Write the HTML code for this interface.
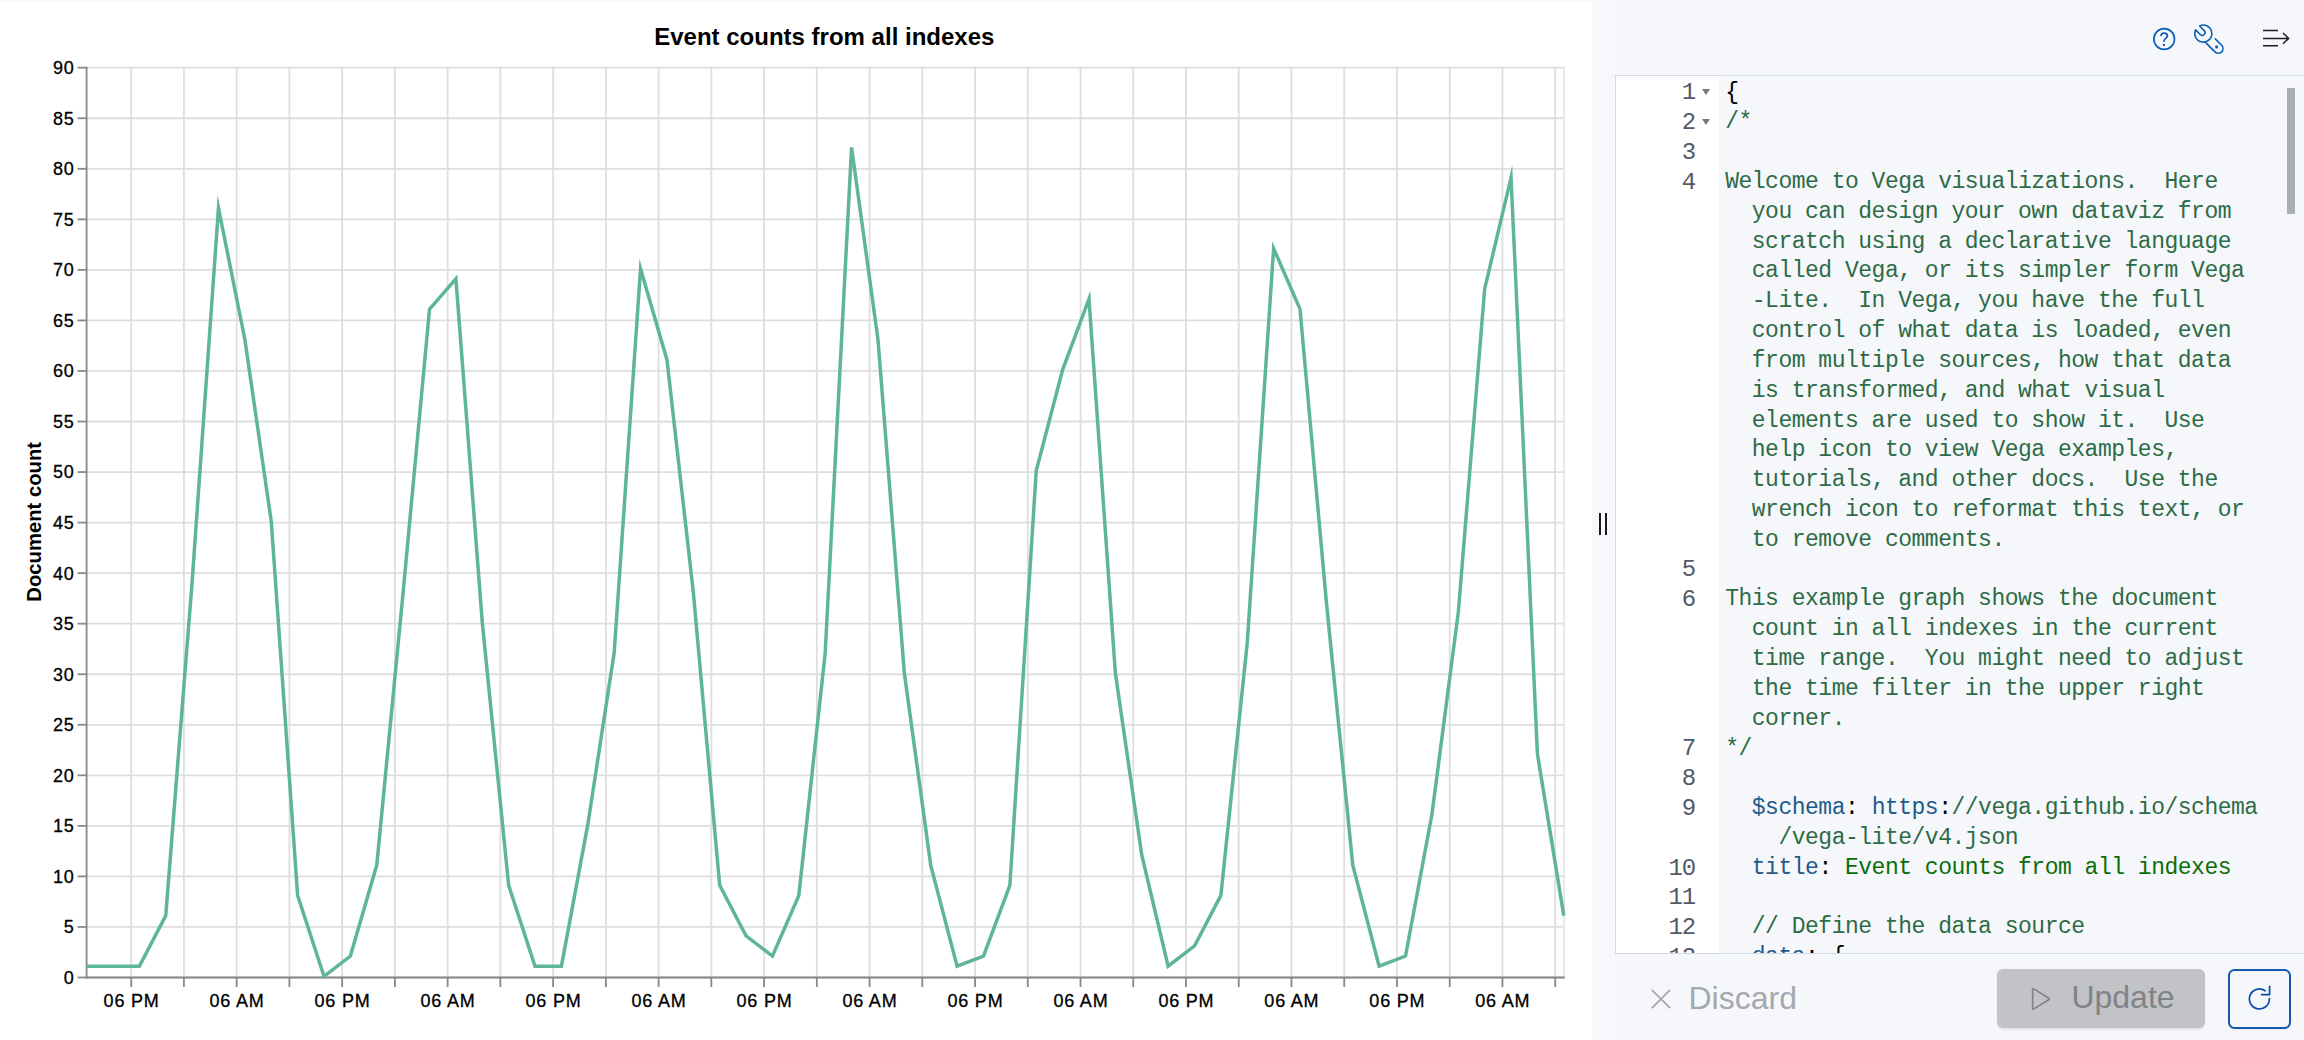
<!DOCTYPE html>
<html><head><meta charset="utf-8">
<style>
html,body{margin:0;padding:0;}
body{width:2304px;height:1040px;overflow:hidden;background:#f7f8fc;position:relative;font-family:"Liberation Sans",sans-serif;}
#chart{position:absolute;left:0;top:2px;width:1592px;height:1038px;background:#fff;}
#chart svg{position:absolute;left:0;top:-2px;}
.lbl{font-family:"Liberation Sans",sans-serif;font-size:18px;fill:#000;letter-spacing:0.8px;stroke:#000;stroke-width:0.3px;}
.ttl{font-family:"Liberation Sans",sans-serif;font-size:24px;font-weight:bold;fill:#000;}
.axt{font-family:"Liberation Sans",sans-serif;font-size:20.25px;font-weight:bold;fill:#000;}
.grip{position:absolute;top:513px;width:1.6px;height:21.5px;background:#1a1c21;}
#hdr{position:absolute;left:1614px;top:2px;width:690px;height:73px;background:#f5f7fa;border-bottom:1px solid #d3dae6;}
#ed{position:absolute;left:1615px;top:76px;width:688px;height:877px;background:#f5f7fa;border-left:1px solid #d3dae6;border-bottom:1px solid #d3dae6;overflow:hidden;}
#gut{position:absolute;left:0;top:0;width:103px;height:877px;background:#fff;}
#gutin{position:absolute;left:0;top:2.3px;}
.gl{position:absolute;left:0;width:79px;text-align:right;height:29.82px;line-height:29.82px;font-family:"Liberation Mono",monospace;font-size:24px;letter-spacing:-1.09px;color:#535966;white-space:pre;}
.fold{position:absolute;left:86px;width:0;height:0;margin-top:11.2px;border-left:4.9px solid transparent;border-right:4.9px solid transparent;border-top:6.1px solid #777;}
#code{position:absolute;left:109.2px;top:2.5px;}
.cl{position:absolute;left:0;height:29.82px;line-height:29.82px;font-family:"Liberation Mono",monospace;font-size:23px;letter-spacing:-0.49px;white-space:pre;color:#000;}
.cm{color:#2e6b47;}
.ky{color:#1d5c8c;}
.pn{color:#000;}
.st{color:#0b6e0b;}
.ur{color:#1d5c8c;}
#sb{position:absolute;left:2287px;top:88px;width:7.7px;height:126px;background:#a9adb5;}
#ftr{position:absolute;left:1614px;top:954px;width:690px;height:86px;background:#f5f7fa;}
.btxt{position:absolute;font-family:"Liberation Sans",sans-serif;font-size:32px;line-height:normal;white-space:pre;}
#upd{position:absolute;left:1996.6px;top:969px;width:208.4px;height:59.4px;background:#c2c3c7;border-radius:6px;box-shadow:0 1.5px 2px rgba(0,0,0,0.08);}
#rfr{position:absolute;box-sizing:border-box;left:2227.8px;top:969.4px;width:62.8px;height:59.2px;background:#f5f7fa;border:2px solid #1458b0;border-radius:6.5px;box-shadow:0 1px 2px rgba(0,0,0,0.06);}
</style></head>
<body>
<div id="chart"><svg width="1592" height="1040" viewBox="0 0 1592 1040">
<line x1="86.6" y1="977.50" x2="1564.3" y2="977.50" stroke="#dedede" stroke-width="1.8"/>
<line x1="86.6" y1="926.96" x2="1564.3" y2="926.96" stroke="#dedede" stroke-width="1.8"/>
<line x1="86.6" y1="876.41" x2="1564.3" y2="876.41" stroke="#dedede" stroke-width="1.8"/>
<line x1="86.6" y1="825.87" x2="1564.3" y2="825.87" stroke="#dedede" stroke-width="1.8"/>
<line x1="86.6" y1="775.32" x2="1564.3" y2="775.32" stroke="#dedede" stroke-width="1.8"/>
<line x1="86.6" y1="724.78" x2="1564.3" y2="724.78" stroke="#dedede" stroke-width="1.8"/>
<line x1="86.6" y1="674.23" x2="1564.3" y2="674.23" stroke="#dedede" stroke-width="1.8"/>
<line x1="86.6" y1="623.69" x2="1564.3" y2="623.69" stroke="#dedede" stroke-width="1.8"/>
<line x1="86.6" y1="573.14" x2="1564.3" y2="573.14" stroke="#dedede" stroke-width="1.8"/>
<line x1="86.6" y1="522.60" x2="1564.3" y2="522.60" stroke="#dedede" stroke-width="1.8"/>
<line x1="86.6" y1="472.06" x2="1564.3" y2="472.06" stroke="#dedede" stroke-width="1.8"/>
<line x1="86.6" y1="421.51" x2="1564.3" y2="421.51" stroke="#dedede" stroke-width="1.8"/>
<line x1="86.6" y1="370.97" x2="1564.3" y2="370.97" stroke="#dedede" stroke-width="1.8"/>
<line x1="86.6" y1="320.42" x2="1564.3" y2="320.42" stroke="#dedede" stroke-width="1.8"/>
<line x1="86.6" y1="269.88" x2="1564.3" y2="269.88" stroke="#dedede" stroke-width="1.8"/>
<line x1="86.6" y1="219.33" x2="1564.3" y2="219.33" stroke="#dedede" stroke-width="1.8"/>
<line x1="86.6" y1="168.79" x2="1564.3" y2="168.79" stroke="#dedede" stroke-width="1.8"/>
<line x1="86.6" y1="118.24" x2="1564.3" y2="118.24" stroke="#dedede" stroke-width="1.8"/>
<line x1="86.6" y1="67.70" x2="1564.3" y2="67.70" stroke="#dedede" stroke-width="1.8"/>
<line x1="131.20" y1="67.7" x2="131.20" y2="977.5" stroke="#dedede" stroke-width="1.8"/>
<line x1="183.94" y1="67.7" x2="183.94" y2="977.5" stroke="#dedede" stroke-width="1.8"/>
<line x1="236.68" y1="67.7" x2="236.68" y2="977.5" stroke="#dedede" stroke-width="1.8"/>
<line x1="289.42" y1="67.7" x2="289.42" y2="977.5" stroke="#dedede" stroke-width="1.8"/>
<line x1="342.16" y1="67.7" x2="342.16" y2="977.5" stroke="#dedede" stroke-width="1.8"/>
<line x1="394.90" y1="67.7" x2="394.90" y2="977.5" stroke="#dedede" stroke-width="1.8"/>
<line x1="447.64" y1="67.7" x2="447.64" y2="977.5" stroke="#dedede" stroke-width="1.8"/>
<line x1="500.38" y1="67.7" x2="500.38" y2="977.5" stroke="#dedede" stroke-width="1.8"/>
<line x1="553.12" y1="67.7" x2="553.12" y2="977.5" stroke="#dedede" stroke-width="1.8"/>
<line x1="605.86" y1="67.7" x2="605.86" y2="977.5" stroke="#dedede" stroke-width="1.8"/>
<line x1="658.60" y1="67.7" x2="658.60" y2="977.5" stroke="#dedede" stroke-width="1.8"/>
<line x1="711.34" y1="67.7" x2="711.34" y2="977.5" stroke="#dedede" stroke-width="1.8"/>
<line x1="764.08" y1="67.7" x2="764.08" y2="977.5" stroke="#dedede" stroke-width="1.8"/>
<line x1="816.82" y1="67.7" x2="816.82" y2="977.5" stroke="#dedede" stroke-width="1.8"/>
<line x1="869.56" y1="67.7" x2="869.56" y2="977.5" stroke="#dedede" stroke-width="1.8"/>
<line x1="922.30" y1="67.7" x2="922.30" y2="977.5" stroke="#dedede" stroke-width="1.8"/>
<line x1="975.04" y1="67.7" x2="975.04" y2="977.5" stroke="#dedede" stroke-width="1.8"/>
<line x1="1027.78" y1="67.7" x2="1027.78" y2="977.5" stroke="#dedede" stroke-width="1.8"/>
<line x1="1080.52" y1="67.7" x2="1080.52" y2="977.5" stroke="#dedede" stroke-width="1.8"/>
<line x1="1133.26" y1="67.7" x2="1133.26" y2="977.5" stroke="#dedede" stroke-width="1.8"/>
<line x1="1186.00" y1="67.7" x2="1186.00" y2="977.5" stroke="#dedede" stroke-width="1.8"/>
<line x1="1238.74" y1="67.7" x2="1238.74" y2="977.5" stroke="#dedede" stroke-width="1.8"/>
<line x1="1291.48" y1="67.7" x2="1291.48" y2="977.5" stroke="#dedede" stroke-width="1.8"/>
<line x1="1344.22" y1="67.7" x2="1344.22" y2="977.5" stroke="#dedede" stroke-width="1.8"/>
<line x1="1396.96" y1="67.7" x2="1396.96" y2="977.5" stroke="#dedede" stroke-width="1.8"/>
<line x1="1449.70" y1="67.7" x2="1449.70" y2="977.5" stroke="#dedede" stroke-width="1.8"/>
<line x1="1502.44" y1="67.7" x2="1502.44" y2="977.5" stroke="#dedede" stroke-width="1.8"/>
<line x1="1555.18" y1="67.7" x2="1555.18" y2="977.5" stroke="#dedede" stroke-width="1.8"/>
<line x1="1564.10" y1="66.8" x2="1564.10" y2="977.5" stroke="#e6e6e6" stroke-width="1.8"/>
<line x1="86.6" y1="66.8" x2="86.6" y2="978.4" stroke="#888888" stroke-width="1.8"/>
<line x1="77.6" y1="977.50" x2="86.6" y2="977.50" stroke="#888888" stroke-width="1.8"/>
<text x="74.6" y="983.90" text-anchor="end" class="lbl">0</text>
<line x1="77.6" y1="926.96" x2="86.6" y2="926.96" stroke="#888888" stroke-width="1.8"/>
<text x="74.6" y="933.36" text-anchor="end" class="lbl">5</text>
<line x1="77.6" y1="876.41" x2="86.6" y2="876.41" stroke="#888888" stroke-width="1.8"/>
<text x="74.6" y="882.81" text-anchor="end" class="lbl">10</text>
<line x1="77.6" y1="825.87" x2="86.6" y2="825.87" stroke="#888888" stroke-width="1.8"/>
<text x="74.6" y="832.27" text-anchor="end" class="lbl">15</text>
<line x1="77.6" y1="775.32" x2="86.6" y2="775.32" stroke="#888888" stroke-width="1.8"/>
<text x="74.6" y="781.72" text-anchor="end" class="lbl">20</text>
<line x1="77.6" y1="724.78" x2="86.6" y2="724.78" stroke="#888888" stroke-width="1.8"/>
<text x="74.6" y="731.18" text-anchor="end" class="lbl">25</text>
<line x1="77.6" y1="674.23" x2="86.6" y2="674.23" stroke="#888888" stroke-width="1.8"/>
<text x="74.6" y="680.63" text-anchor="end" class="lbl">30</text>
<line x1="77.6" y1="623.69" x2="86.6" y2="623.69" stroke="#888888" stroke-width="1.8"/>
<text x="74.6" y="630.09" text-anchor="end" class="lbl">35</text>
<line x1="77.6" y1="573.14" x2="86.6" y2="573.14" stroke="#888888" stroke-width="1.8"/>
<text x="74.6" y="579.54" text-anchor="end" class="lbl">40</text>
<line x1="77.6" y1="522.60" x2="86.6" y2="522.60" stroke="#888888" stroke-width="1.8"/>
<text x="74.6" y="529.00" text-anchor="end" class="lbl">45</text>
<line x1="77.6" y1="472.06" x2="86.6" y2="472.06" stroke="#888888" stroke-width="1.8"/>
<text x="74.6" y="478.46" text-anchor="end" class="lbl">50</text>
<line x1="77.6" y1="421.51" x2="86.6" y2="421.51" stroke="#888888" stroke-width="1.8"/>
<text x="74.6" y="427.91" text-anchor="end" class="lbl">55</text>
<line x1="77.6" y1="370.97" x2="86.6" y2="370.97" stroke="#888888" stroke-width="1.8"/>
<text x="74.6" y="377.37" text-anchor="end" class="lbl">60</text>
<line x1="77.6" y1="320.42" x2="86.6" y2="320.42" stroke="#888888" stroke-width="1.8"/>
<text x="74.6" y="326.82" text-anchor="end" class="lbl">65</text>
<line x1="77.6" y1="269.88" x2="86.6" y2="269.88" stroke="#888888" stroke-width="1.8"/>
<text x="74.6" y="276.28" text-anchor="end" class="lbl">70</text>
<line x1="77.6" y1="219.33" x2="86.6" y2="219.33" stroke="#888888" stroke-width="1.8"/>
<text x="74.6" y="225.73" text-anchor="end" class="lbl">75</text>
<line x1="77.6" y1="168.79" x2="86.6" y2="168.79" stroke="#888888" stroke-width="1.8"/>
<text x="74.6" y="175.19" text-anchor="end" class="lbl">80</text>
<line x1="77.6" y1="118.24" x2="86.6" y2="118.24" stroke="#888888" stroke-width="1.8"/>
<text x="74.6" y="124.64" text-anchor="end" class="lbl">85</text>
<line x1="77.6" y1="67.70" x2="86.6" y2="67.70" stroke="#888888" stroke-width="1.8"/>
<text x="74.6" y="74.10" text-anchor="end" class="lbl">90</text>
<line x1="85.7" y1="977.5" x2="1564.8" y2="977.5" stroke="#888888" stroke-width="1.8"/>
<line x1="131.20" y1="977.5" x2="131.20" y2="987.0" stroke="#888888" stroke-width="1.8"/>
<text x="131.60" y="1006.6" text-anchor="middle" class="lbl">06 PM</text>
<line x1="183.94" y1="977.5" x2="183.94" y2="987.0" stroke="#888888" stroke-width="1.8"/>
<line x1="236.68" y1="977.5" x2="236.68" y2="987.0" stroke="#888888" stroke-width="1.8"/>
<text x="237.08" y="1006.6" text-anchor="middle" class="lbl">06 AM</text>
<line x1="289.42" y1="977.5" x2="289.42" y2="987.0" stroke="#888888" stroke-width="1.8"/>
<line x1="342.16" y1="977.5" x2="342.16" y2="987.0" stroke="#888888" stroke-width="1.8"/>
<text x="342.56" y="1006.6" text-anchor="middle" class="lbl">06 PM</text>
<line x1="394.90" y1="977.5" x2="394.90" y2="987.0" stroke="#888888" stroke-width="1.8"/>
<line x1="447.64" y1="977.5" x2="447.64" y2="987.0" stroke="#888888" stroke-width="1.8"/>
<text x="448.04" y="1006.6" text-anchor="middle" class="lbl">06 AM</text>
<line x1="500.38" y1="977.5" x2="500.38" y2="987.0" stroke="#888888" stroke-width="1.8"/>
<line x1="553.12" y1="977.5" x2="553.12" y2="987.0" stroke="#888888" stroke-width="1.8"/>
<text x="553.52" y="1006.6" text-anchor="middle" class="lbl">06 PM</text>
<line x1="605.86" y1="977.5" x2="605.86" y2="987.0" stroke="#888888" stroke-width="1.8"/>
<line x1="658.60" y1="977.5" x2="658.60" y2="987.0" stroke="#888888" stroke-width="1.8"/>
<text x="659.00" y="1006.6" text-anchor="middle" class="lbl">06 AM</text>
<line x1="711.34" y1="977.5" x2="711.34" y2="987.0" stroke="#888888" stroke-width="1.8"/>
<line x1="764.08" y1="977.5" x2="764.08" y2="987.0" stroke="#888888" stroke-width="1.8"/>
<text x="764.48" y="1006.6" text-anchor="middle" class="lbl">06 PM</text>
<line x1="816.82" y1="977.5" x2="816.82" y2="987.0" stroke="#888888" stroke-width="1.8"/>
<line x1="869.56" y1="977.5" x2="869.56" y2="987.0" stroke="#888888" stroke-width="1.8"/>
<text x="869.96" y="1006.6" text-anchor="middle" class="lbl">06 AM</text>
<line x1="922.30" y1="977.5" x2="922.30" y2="987.0" stroke="#888888" stroke-width="1.8"/>
<line x1="975.04" y1="977.5" x2="975.04" y2="987.0" stroke="#888888" stroke-width="1.8"/>
<text x="975.44" y="1006.6" text-anchor="middle" class="lbl">06 PM</text>
<line x1="1027.78" y1="977.5" x2="1027.78" y2="987.0" stroke="#888888" stroke-width="1.8"/>
<line x1="1080.52" y1="977.5" x2="1080.52" y2="987.0" stroke="#888888" stroke-width="1.8"/>
<text x="1080.92" y="1006.6" text-anchor="middle" class="lbl">06 AM</text>
<line x1="1133.26" y1="977.5" x2="1133.26" y2="987.0" stroke="#888888" stroke-width="1.8"/>
<line x1="1186.00" y1="977.5" x2="1186.00" y2="987.0" stroke="#888888" stroke-width="1.8"/>
<text x="1186.40" y="1006.6" text-anchor="middle" class="lbl">06 PM</text>
<line x1="1238.74" y1="977.5" x2="1238.74" y2="987.0" stroke="#888888" stroke-width="1.8"/>
<line x1="1291.48" y1="977.5" x2="1291.48" y2="987.0" stroke="#888888" stroke-width="1.8"/>
<text x="1291.88" y="1006.6" text-anchor="middle" class="lbl">06 AM</text>
<line x1="1344.22" y1="977.5" x2="1344.22" y2="987.0" stroke="#888888" stroke-width="1.8"/>
<line x1="1396.96" y1="977.5" x2="1396.96" y2="987.0" stroke="#888888" stroke-width="1.8"/>
<text x="1397.36" y="1006.6" text-anchor="middle" class="lbl">06 PM</text>
<line x1="1449.70" y1="977.5" x2="1449.70" y2="987.0" stroke="#888888" stroke-width="1.8"/>
<line x1="1502.44" y1="977.5" x2="1502.44" y2="987.0" stroke="#888888" stroke-width="1.8"/>
<text x="1502.84" y="1006.6" text-anchor="middle" class="lbl">06 AM</text>
<line x1="1555.18" y1="977.5" x2="1555.18" y2="987.0" stroke="#888888" stroke-width="1.8"/>
<polyline points="86.60,966.19 112.98,966.19 139.36,966.19 165.74,915.65 192.11,582.05 218.49,208.02 244.87,339.44 271.25,521.40 297.63,895.43 324.01,976.30 350.39,956.08 376.76,865.10 403.14,592.16 429.52,309.11 455.90,278.79 482.28,622.49 508.66,885.32 535.04,966.19 561.41,966.19 587.79,824.67 614.17,652.82 640.55,268.68 666.93,359.66 693.31,592.16 719.69,885.32 746.06,935.86 772.44,956.08 798.82,895.43 825.20,652.82 851.58,147.37 877.96,339.44 904.34,673.03 930.71,865.10 957.09,966.19 983.47,956.08 1009.85,885.32 1036.23,470.86 1062.61,369.77 1088.99,299.00 1115.36,673.03 1141.74,854.99 1168.12,966.19 1194.50,945.97 1220.88,895.43 1247.26,642.71 1273.64,248.46 1300.01,309.11 1326.39,602.27 1352.77,865.10 1379.15,966.19 1405.53,956.08 1431.91,814.56 1458.29,612.38 1484.66,288.90 1511.04,177.70 1537.42,753.90 1563.80,915.65" fill="none" stroke="#5fb49c" stroke-width="3.5" stroke-linejoin="miter" stroke-miterlimit="10"/>
<text x="824.3" y="44.7" text-anchor="middle" class="ttl">Event counts from all indexes</text>
<text transform="translate(41,521.8) rotate(-90)" text-anchor="middle" class="axt">Document count</text>
</svg></div>
<div class="grip" style="left:1599.4px"></div>
<div class="grip" style="left:1605.1px"></div>
<div id="hdr"></div>
<svg style="position:absolute;left:0;top:0" width="2304" height="80">
  <g fill="none" stroke="#0b5fb8" stroke-width="1.7" stroke-linecap="round">
    <circle cx="2164.2" cy="39" r="10.3"/>
    <path d="M2161 35.5 C2161.2 33.9 2162.4 33.2 2164.1 33.2 C2166 33.2 2167.4 34.4 2167.4 36 C2167.4 38.3 2164.1 38.4 2164 41.1"/>
  </g>
  <circle cx="2163.9" cy="44.9" r="1.2" fill="#0b5fb8"/>
  <g transform="translate(2203.3 33.6) rotate(45)" fill="none" stroke="#0b5fb8" stroke-width="1.6" stroke-linejoin="round" stroke-linecap="round">
    <path d="M-8.03 -2.8 L-1.5 -2.8 A2.8 2.8 0 0 1 -1.5 2.8 L-8.03 2.8 A8.5 8.5 0 1 0 -8.03 -2.8 Z"/>
    <path d="M7.08 4.7 L21.2 4.7 A4.7 4.7 0 0 0 21.2 -4.7 L12.2 -4.7"/>
    <circle cx="18.8" cy="0" r="1.5" fill="#0b5fb8" stroke="none"/>
  </g>
  <g fill="none" stroke="#1a1c21" stroke-width="1.5" stroke-linecap="butt" stroke-linejoin="miter">
    <path d="M2263 30.6 H2278 M2263 38.4 H2288 M2263 45.8 H2278 M2283 33 L2288.6 38.4 L2283 43.8"/>
  </g>
</svg>
<div id="ed">
  <div id="gut">
<div id="gutin">
<div class="gl" style="top:0.00px">1</div><div class="fold" style="top:0.00px"></div>
<div class="gl" style="top:29.82px">2</div><div class="fold" style="top:29.82px"></div>
<div class="gl" style="top:59.64px">3</div>
<div class="gl" style="top:89.46px">4</div>
<div class="gl" style="top:119.28px"></div>
<div class="gl" style="top:149.10px"></div>
<div class="gl" style="top:178.92px"></div>
<div class="gl" style="top:208.74px"></div>
<div class="gl" style="top:238.56px"></div>
<div class="gl" style="top:268.38px"></div>
<div class="gl" style="top:298.20px"></div>
<div class="gl" style="top:328.02px"></div>
<div class="gl" style="top:357.84px"></div>
<div class="gl" style="top:387.66px"></div>
<div class="gl" style="top:417.48px"></div>
<div class="gl" style="top:447.30px"></div>
<div class="gl" style="top:477.12px">5</div>
<div class="gl" style="top:506.94px">6</div>
<div class="gl" style="top:536.76px"></div>
<div class="gl" style="top:566.58px"></div>
<div class="gl" style="top:596.40px"></div>
<div class="gl" style="top:626.22px"></div>
<div class="gl" style="top:656.04px">7</div>
<div class="gl" style="top:685.86px">8</div>
<div class="gl" style="top:715.68px">9</div>
<div class="gl" style="top:745.50px"></div>
<div class="gl" style="top:775.32px">10</div>
<div class="gl" style="top:805.14px">11</div>
<div class="gl" style="top:834.96px">12</div>
<div class="gl" style="top:864.78px">13</div>
</div>
  </div>
  <div id="code">
<div class="cl" style="top:0.00px"><span class="pn">{</span></div>
<div class="cl" style="top:29.82px"><span class="cm">/*</span></div>
<div class="cl" style="top:59.64px"></div>
<div class="cl" style="top:89.46px"><span class="cm">Welcome to Vega visualizations.  Here</span></div>
<div class="cl" style="top:119.28px"><span class="cm">  you can design your own dataviz from</span></div>
<div class="cl" style="top:149.10px"><span class="cm">  scratch using a declarative language</span></div>
<div class="cl" style="top:178.92px"><span class="cm">  called Vega, or its simpler form Vega</span></div>
<div class="cl" style="top:208.74px"><span class="cm">  -Lite.  In Vega, you have the full</span></div>
<div class="cl" style="top:238.56px"><span class="cm">  control of what data is loaded, even</span></div>
<div class="cl" style="top:268.38px"><span class="cm">  from multiple sources, how that data</span></div>
<div class="cl" style="top:298.20px"><span class="cm">  is transformed, and what visual</span></div>
<div class="cl" style="top:328.02px"><span class="cm">  elements are used to show it.  Use</span></div>
<div class="cl" style="top:357.84px"><span class="cm">  help icon to view Vega examples,</span></div>
<div class="cl" style="top:387.66px"><span class="cm">  tutorials, and other docs.  Use the</span></div>
<div class="cl" style="top:417.48px"><span class="cm">  wrench icon to reformat this text, or</span></div>
<div class="cl" style="top:447.30px"><span class="cm">  to remove comments.</span></div>
<div class="cl" style="top:477.12px"></div>
<div class="cl" style="top:506.94px"><span class="cm">This example graph shows the document</span></div>
<div class="cl" style="top:536.76px"><span class="cm">  count in all indexes in the current</span></div>
<div class="cl" style="top:566.58px"><span class="cm">  time range.  You might need to adjust</span></div>
<div class="cl" style="top:596.40px"><span class="cm">  the time filter in the upper right</span></div>
<div class="cl" style="top:626.22px"><span class="cm">  corner.</span></div>
<div class="cl" style="top:656.04px"><span class="cm">*/</span></div>
<div class="cl" style="top:685.86px"></div>
<div class="cl" style="top:715.68px"><span class="pn">  </span><span class="ky">$schema</span><span class="pn">:</span><span class="pn"> </span><span class="ky">https</span><span class="pn">:</span><span class="cm">//vega.github.io/schema</span></div>
<div class="cl" style="top:745.50px"><span class="cm">    /vega-lite/v4.json</span></div>
<div class="cl" style="top:775.32px"><span class="pn">  </span><span class="ky">title</span><span class="pn">:</span><span class="pn"> </span><span class="st">Event counts from all indexes</span></div>
<div class="cl" style="top:805.14px"></div>
<div class="cl" style="top:834.96px"><span class="pn">  </span><span class="cm">// Define the data source</span></div>
<div class="cl" style="top:864.78px"><span class="pn">  </span><span class="ky">data</span><span class="pn">:</span><span class="pn"> </span><span class="pn">{</span></div>
  </div>
</div>
<div id="sb"></div>
<div id="ftr"></div>
<svg style="position:absolute;left:1640px;top:980px" width="40" height="40">
  <path d="M11.8 9.9 L30.1 28.1 M30.1 9.9 L11.8 28.1" stroke="#a0a4ab" stroke-width="1.6" fill="none"/>
</svg>
<div class="btxt" style="left:1688.5px;top:979.6px;color:#a4a8ae;">Discard</div>
<div id="upd"></div>
<svg style="position:absolute;left:2020px;top:975px" width="50" height="50">
  <path d="M12.6 14.6 L12.6 33.2 Q12.6 34.6 13.8 33.9 L28.8 24.8 Q29.8 24 28.8 23.2 L13.8 13.9 Q12.6 13.2 12.6 14.6 Z" fill="none" stroke="#7f8186" stroke-width="1.6" stroke-linejoin="round"/>
</svg>
<div class="btxt" style="left:2071.4px;top:979.4px;color:#808286;">Update</div>
<div id="rfr"></div>
<svg style="position:absolute;left:0;top:950px" width="2304" height="90">
  <g fill="none" stroke="#0d4daa" stroke-width="1.75" stroke-linecap="round" stroke-linejoin="round">
    <path d="M2265.1 40.75 A10 10 0 1 0 2269.4 48.6"/>
    <path d="M2269.6 36.3 V44.5 H2261.6"/>
  </g>
</svg>
</body></html>
